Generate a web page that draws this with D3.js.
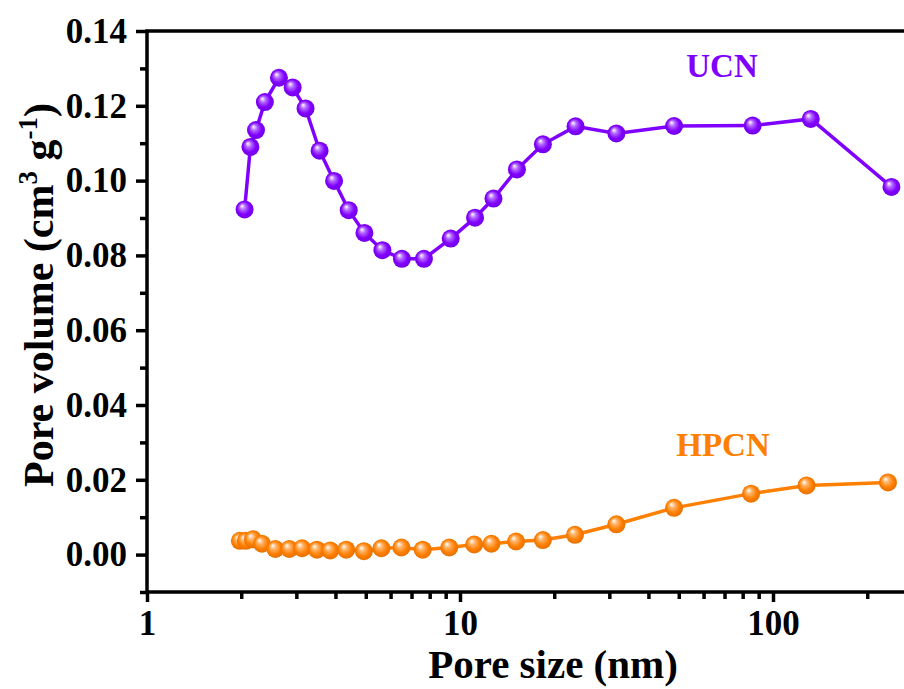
<!DOCTYPE html>
<html lang="en">
<head>
<meta charset="utf-8">
<title>Pore size distribution</title>
<script src="https://cdn.jsdelivr.net/npm/d3@7"></script>
<style>
  body { margin: 0; background: #fff; }
  svg text { font-family: "Liberation Serif", "Times New Roman", serif; font-weight: bold; fill: #000; }
  .axis path, .axis line { stroke: #000; }
  .tick text { font-size: 35px; }
</style>
</head>
<body>
<script>
// pore size (nm) and pore volume (cm3/g)
var ucnSize = [2.05, 2.14, 2.23, 2.38, 2.64, 2.92, 3.21, 3.56, 3.96, 4.41, 4.95, 5.65, 6.52, 7.67, 9.34, 11.17, 12.79, 15.2, 18.4, 23.4, 31.6, 48.3, 86.1, 132, 239];
var ucnVol  = [0.0923, 0.109, 0.1135, 0.121, 0.1275, 0.1249, 0.1193, 0.108, 0.0999, 0.0921, 0.086, 0.0814, 0.0791, 0.0791, 0.0845, 0.0901, 0.0952, 0.103, 0.1097, 0.1145, 0.1126, 0.1146, 0.1147, 0.1165, 0.0983];

var hpcnSize = [1.98, 2.07, 2.18, 2.33, 2.57, 2.85, 3.13, 3.49, 3.85, 4.33, 4.93, 5.61, 6.5, 7.6, 9.24, 11.1, 12.6, 15.1, 18.4, 23.3, 31.6, 48.3, 85.1, 128, 233];
var hpcnVol  = [0.0037, 0.0037, 0.0041, 0.0029, 0.0015, 0.0015, 0.0017, 0.0013, 0.0011, 0.0013, 0.0009, 0.0017, 0.0019, 0.0013, 0.0019, 0.0027, 0.0029, 0.0035, 0.0039, 0.0053, 0.0081, 0.0125, 0.0163, 0.0185, 0.0193];

var xTicks = [1, 10, 100];
var xMinor = [2, 3, 4, 5, 6, 7, 8, 9, 20, 30, 40, 50, 60, 70, 80, 90, 200];
var yTicks = [0.00, 0.02, 0.04, 0.06, 0.08, 0.10, 0.12, 0.14];
var yMinor = [-0.01, 0.01, 0.03, 0.05, 0.07, 0.09, 0.11, 0.13];

var purple = "#8000ff";
var orange = "#ff7f00";

var w = 904, h = 689;
var padL = 147, padT = 31, padR = 920, padB = 592;

var svg = d3.select("body").append("svg").attr("width", w).attr("height", h);

var x = d3.scaleLog().domain([1, 10]).range([padL, padL + 313]);
var y = d3.scaleLinear().domain([-0.01, 0.14]).range([padB, padT]);

// shiny ball gradients
var defs = svg.append("defs");
function ball(id, col) {
  var g = defs.append("radialGradient").attr("id", id)
      .attr("cx", "50%").attr("cy", "50%").attr("r", "55%")
      .attr("fx", "35%").attr("fy", "30%");
  g.append("stop").attr("offset", "0%").attr("stop-color", "#ffffff");
  g.append("stop").attr("offset", "30%").attr("stop-color", d3.interpolateRgb("#ffffff", col)(0.6));
  g.append("stop").attr("offset", "65%").attr("stop-color", col);
  g.append("stop").attr("offset", "100%").attr("stop-color", d3.color(col).darker(0.4));
}
ball("ballP", purple);
ball("ballO", orange);

// axes
var xAxis = d3.axisBottom(x).tickValues(xTicks).tickFormat(d3.format("d")).tickSize(10).tickPadding(8).tickSizeOuter(0);
var xAxisMinor = d3.axisBottom(x).tickValues(xMinor).tickFormat("").tickSize(7).tickSizeOuter(0);
var yAxis = d3.axisLeft(y).tickValues(yTicks).tickFormat(d3.format(".2f")).tickSize(11).tickPadding(9).tickSizeOuter(0);
var yAxisMinor = d3.axisLeft(y).tickValues(yMinor).tickFormat("").tickSize(7).tickSizeOuter(0);

svg.append("g").attr("class", "axis").attr("transform", "translate(0," + padB + ")").call(xAxisMinor);
svg.append("g").attr("class", "axis").attr("transform", "translate(0," + padB + ")").call(xAxis);
svg.append("g").attr("class", "axis").attr("transform", "translate(" + padL + ",0)").call(yAxisMinor);
svg.append("g").attr("class", "axis").attr("transform", "translate(" + padL + ",0)").call(yAxis);

svg.selectAll(".axis line").attr("stroke-width", 3.5);
svg.selectAll(".axis path").remove();

// frame
svg.append("rect")
   .attr("x", padL).attr("y", padT)
   .attr("width", padR - padL).attr("height", padB - padT)
   .attr("fill", "none").attr("stroke", "#000").attr("stroke-width", 3.5);

// series
function series(xs, ys, col, grad) {
  var pts = xs.map(function(d, i) { return [d, ys[i]]; });
  var line = d3.line().x(function(d) { return x(d[0]); }).y(function(d) { return y(d[1]); });
  svg.append("path").datum(pts)
     .attr("fill", "none").attr("stroke", col).attr("stroke-width", 3.5)
     .attr("d", line);
  svg.append("g").selectAll("circle").data(pts).enter().append("circle")
     .attr("cx", function(d) { return x(d[0]); })
     .attr("cy", function(d) { return y(d[1]); })
     .attr("r", 9)
     .attr("fill", "url(#" + grad + ")");
}
series(ucnSize, ucnVol, purple, "ballP");
series(hpcnSize, hpcnVol, orange, "ballO");

// labels
svg.append("text").attr("x", 722).attr("y", 77).attr("text-anchor", "middle")
   .style("font-size", "33px").style("fill", purple).text("UCN");
svg.append("text").attr("x", 723).attr("y", 456).attr("text-anchor", "middle")
   .style("font-size", "33px").style("fill", orange).text("HPCN");

svg.append("text").attr("x", 553).attr("y", 678).attr("text-anchor", "middle")
   .style("font-size", "41px").text("Pore size (nm)");

var yt = svg.append("text").attr("transform", "translate(53,295) rotate(-90)")
   .attr("text-anchor", "middle").style("font-size", "42px");
yt.append("tspan").text("Pore volume (cm");
yt.append("tspan").attr("dy", -16).style("font-size", "27px").text("3");
yt.append("tspan").attr("dy", 16).text(" g");
yt.append("tspan").attr("dy", -16).style("font-size", "27px").text("-1");
yt.append("tspan").attr("dy", 16).text(")");
</script>
</body>
</html>
